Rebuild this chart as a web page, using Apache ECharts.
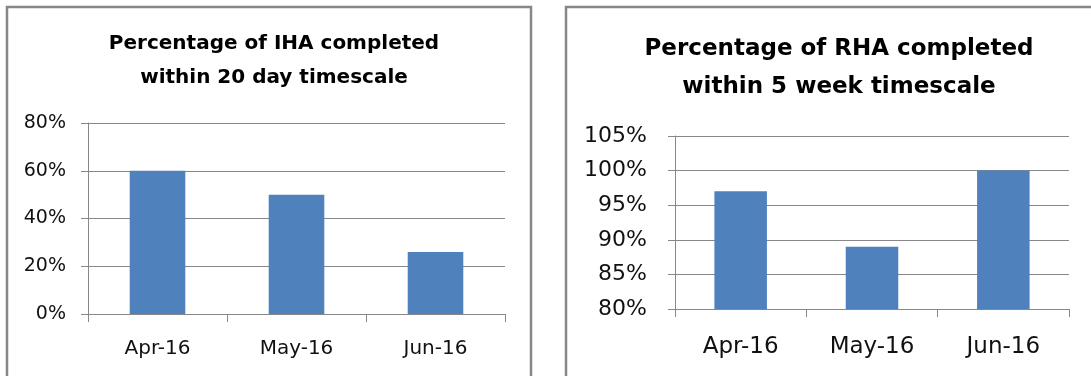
<!DOCTYPE html>
<html>
<head>
<meta charset="utf-8">
<script src="https://cdn.jsdelivr.net/npm/echarts@6/dist/echarts.min.js"></script>
<style>
  html, body { margin: 0; padding: 0; background: #fff; }
  #chart { width: 1091px; height: 376px; }
</style>
</head>
<body>
<div id="chart"></div>
<script>
// data
const months = ['Apr-16', 'May-16', 'Jun-16'];
const ihaValues = [60, 50, 26];   // % of IHA completed within 20 days
const rhaValues = [97, 89, 100];  // % of RHA completed within 5 weeks
const ihaTicks = {min: 0, max: 80, interval: 20};
const rhaTicks = {min: 80, max: 105, interval: 5};

const gray = '#878787';
const barColor = '#4f81bd';
const font = 'DejaVu Sans';

function yAxisFor(ticks, gridIndex, size, margin) {
  return {
    type: 'value',
    gridIndex: gridIndex,
    min: ticks.min,
    max: ticks.max,
    interval: ticks.interval,
    axisLine: {show: true, lineStyle: {color: gray, width: 1}},
    axisTick: {show: true, length: 7, lineStyle: {color: gray}},
    splitLine: {lineStyle: {color: gray, width: 1}},
    axisLabel: {
      formatter: '{value}%',
      color: '#111',
      fontFamily: font,
      fontSize: size,
      margin: margin
    }
  };
}

function xAxisFor(gridIndex, size, margin) {
  return {
    type: 'category',
    gridIndex: gridIndex,
    data: months,
    axisLine: {show: true, lineStyle: {color: gray, width: 1}},
    axisTick: {show: true, length: 8, lineStyle: {color: gray}},
    axisLabel: {color: '#111', fontFamily: font, fontSize: size, margin: margin}
  };
}

const chart = echarts.init(document.getElementById('chart'));
chart.setOption({
  backgroundColor: '#fff',
  animation: false,
  title: [
    {
      text: 'Percentage of IHA completed\nwithin 20 day timescale',
      left: 269, top: 22, textAlign: 'center',
      textStyle: {fontFamily: font, fontWeight: 'bold', fontSize: 20, lineHeight: 34, color: '#000'}
    },
    {
      text: 'Percentage of RHA completed\nwithin 5 week timescale',
      left: 834, top: 25, textAlign: 'center',
      textStyle: {fontFamily: font, fontWeight: 'bold', fontSize: 23, lineHeight: 38, color: '#000'}
    }
  ],
  graphic: [
    {type: 'rect', shape: {x: 7, y: 7, width: 524, height: 400},
     style: {fill: null, stroke: gray, lineWidth: 2.5}},
    {type: 'rect', shape: {x: 566, y: 7, width: 540, height: 400},
     style: {fill: null, stroke: gray, lineWidth: 2.5}}
  ],
  grid: [
    {left: 88, top: 123, width: 417, height: 191},
    {left: 675, top: 136, width: 394, height: 173}
  ],
  xAxis: [xAxisFor(0, 20, 25), xAxisFor(1, 23, 27)],
  yAxis: [yAxisFor(ihaTicks, 0, 19, 22), yAxisFor(rhaTicks, 1, 22, 28)],
  series: [
    {
      type: 'bar', xAxisIndex: 0, yAxisIndex: 0, data: ihaValues, barWidth: '40%',
      itemStyle: {color: barColor}
    },
    {
      type: 'bar', xAxisIndex: 1, yAxisIndex: 1, data: rhaValues, barWidth: '40%',
      itemStyle: {color: barColor}
    }
  ]
});
</script>
</body>
</html>
